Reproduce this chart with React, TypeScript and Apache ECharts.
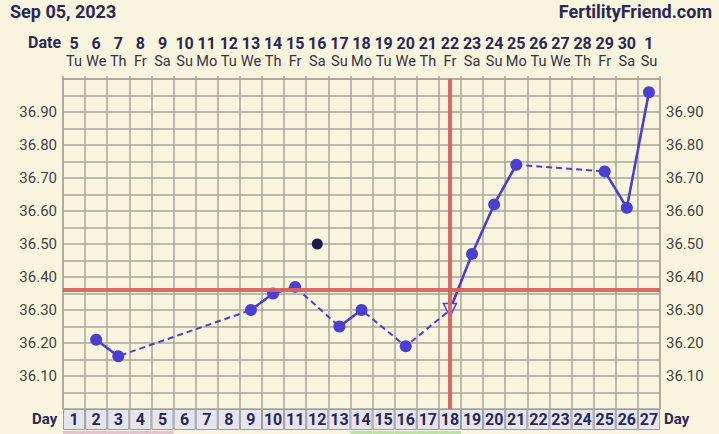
import React, { useEffect, useRef } from "react";
import * as echarts from "echarts";

const days = Array.from({ length: 27 }, (_, i) => String(i + 1));
const dates = ["5","6","7","8","9","10","11","12","13","14","15","16","17","18","19","20","21","22","23","24","25","26","27","28","29","30","1"];
const weekdays = ["Tu","We","Th","Fr","Sa","Su","Mo","Tu","We","Th","Fr","Sa","Su","Mo","Tu","We","Th","Fr","Sa","Su","Mo","Tu","We","Th","Fr","Sa","Su"];
// temperatures per cycle day (null = no reading / discarded)
const temps: (number | null)[] = [
  null, 36.21, 36.16, null, null, null, null, null, 36.30, 36.35,
  36.37, null, 36.25, 36.30, null, 36.19, null, 36.30, 36.47, 36.62,
  36.74, null, null, null, 36.72, 36.61, 36.96,
];
const discarded: (number | null)[] = [
  null, null, null, null, null, null, null, null, null, null,
  null, 36.50, null, null, null, null, null, null, null, null,
  null, null, null, null, null, null, null,
];
const ovulationDay = "18";
const coverline = 36.36;
const signs = ["M","M","M","M","M","","","","","","","","","F","F","F","F","F","","","","","","","","",""];
const yMin = 36.0;
const yMax = 37.0;

const BG = "#f8f4de";
const GRID = "#a8a799";
const RED = "#d9625e";
const BLUE = "#4a3fd0";
const NAVY = "#2a2854";
const FONT = "Roboto, 'Noto Sans', sans-serif";

export default function App() {
  const ref = useRef<HTMLDivElement>(null);
  useEffect(() => {
    if (!ref.current) return;
    const chart = echarts.init(ref.current, null, { renderer: "svg" });
    const yLabel = (v: number) => {
      const h = Math.round(v * 100);
      if (h % 10 === 0 && h > 3600 && h < 3700) return (h / 100).toFixed(2);
      return "";
    };
    const solidData = temps.map((t, i) => {
      if (t === null) return null;
      if (days[i] === ovulationDay) {
        return {
          value: t,
          symbol: "triangle",
          symbolRotate: 180,
          symbolSize: 13,
          itemStyle: { color: BG, borderColor: BLUE, borderWidth: 1.5 },
        };
      }
      return t;
    });
    chart.setOption({
      animation: false,
      backgroundColor: BG,
      textStyle: { fontFamily: FONT },
      graphic: [
        { type: "text", left: 10, top: 2, style: { text: "Sep 05, 2023", font: `bold 18px ${FONT}`, fill: NAVY } },
        { type: "text", right: 7, top: 2, style: { text: "FertilityFriend.com", font: `bold 18px ${FONT}`, fill: NAVY } },
        { type: "text", left: 28, top: 34, style: { text: "Date", font: `bold 16px ${FONT}`, fill: NAVY } },
        { type: "text", left: 32, top: 411, style: { text: "Day", font: `bold 15px ${FONT}`, fill: NAVY } },
        { type: "text", left: 664, top: 411, style: { text: "Day", font: `bold 15px ${FONT}`, fill: NAVY } },
      ],
      grid: [
        { left: 63, right: 59, top: 79, bottom: 25 },
        { left: 63, right: 59, top: 409, height: 21 },
        { left: 63, right: 59, top: 431, height: 5 },
      ],
      xAxis: [
        {
          type: "category",
          gridIndex: 0,
          position: "top",
          data: days,
          boundaryGap: true,
          axisLine: { show: true, lineStyle: { color: GRID, width: 1.5 } },
          axisTick: { show: true, length: 3, lineStyle: { color: GRID, width: 1.5 } },
          splitLine: { show: true, lineStyle: { color: GRID, width: 1.5 } },
          axisLabel: {
            interval: 0,
            margin: 9,
            formatter: (_v: string, i: number) => `{d|${dates[i]}}\n{w|${weekdays[i]}}`,
            rich: {
              d: { fontSize: 16, fontWeight: "bold", color: NAVY, lineHeight: 18, fontFamily: FONT },
              w: { fontSize: 14.5, color: "#333344", lineHeight: 18, fontFamily: FONT },
            },
          },
        },
        { type: "category", gridIndex: 1, data: days, show: false },
        { type: "category", gridIndex: 2, data: days, show: false },
      ],
      yAxis: [
        {
          type: "value",
          gridIndex: 0,
          min: yMin,
          max: yMax,
          interval: 0.05,
          axisLine: { show: true, lineStyle: { color: GRID, width: 1.5 } },
          axisTick: { show: false },
          splitLine: { show: true, lineStyle: { color: GRID, width: 1.5 } },
          axisLabel: { formatter: yLabel, fontSize: 15, color: "#444", margin: 6, fontFamily: FONT },
        },
        {
          type: "value",
          gridIndex: 0,
          position: "right",
          min: yMin,
          max: yMax,
          interval: 0.05,
          axisLine: { show: true, lineStyle: { color: GRID, width: 1.5 } },
          axisTick: { show: false },
          splitLine: { show: false },
          axisLabel: { formatter: yLabel, fontSize: 15, color: "#444", margin: 6, fontFamily: FONT },
        },
        { type: "value", gridIndex: 1, min: 0, max: 1, show: false },
        { type: "value", gridIndex: 2, min: 0, max: 1, show: false },
      ],
      series: [
        {
          type: "line",
          xAxisIndex: 0,
          yAxisIndex: 0,
          data: temps,
          connectNulls: true,
          showSymbol: false,
          lineStyle: { color: BLUE, width: 2, type: [6, 4] },
          z: 2,
          markLine: {
            silent: true,
            symbol: "none",
            label: { show: false },
            lineStyle: { color: RED, width: 4, type: "solid", opacity: 0.95 },
            data: [{ yAxis: coverline }, { xAxis: ovulationDay }],
          },
        },
        {
          type: "line",
          xAxisIndex: 0,
          yAxisIndex: 0,
          data: solidData,
          connectNulls: false,
          showSymbol: true,
          showAllSymbol: true,
          symbol: "circle",
          symbolSize: 12,
          itemStyle: { color: BLUE },
          lineStyle: { color: BLUE, width: 2.5 },
          z: 3,
        },
        {
          type: "scatter",
          xAxisIndex: 0,
          yAxisIndex: 0,
          data: discarded,
          symbolSize: 11,
          itemStyle: { color: "#1d1a4f", opacity: 1 },
          z: 3,
        },
        {
          type: "bar",
          xAxisIndex: 1,
          yAxisIndex: 2,
          data: days.map(() => 1),
          barCategoryGap: 0,
          itemStyle: { color: "#e6e5ee", borderColor: "#9c9ca0", borderWidth: 1 },
          label: {
            show: true,
            position: "inside",
            formatter: (p: any) => days[p.dataIndex],
            fontSize: 16,
            fontWeight: "bold",
            color: NAVY,
            fontFamily: FONT,
          },
        },
        {
          type: "bar",
          xAxisIndex: 2,
          yAxisIndex: 3,
          data: signs.map((s) => ({
            value: s ? 1 : 0,
            itemStyle: { color: s === "M" ? "#e3c3cc" : "#bfe0a8" },
          })),
          barCategoryGap: 0,
        },
      ],
    });
    return () => chart.dispose();
  }, []);
  return <div ref={ref} style={{ position: "fixed", left: 0, top: 0, width: 719, height: 434 }} />;
}
